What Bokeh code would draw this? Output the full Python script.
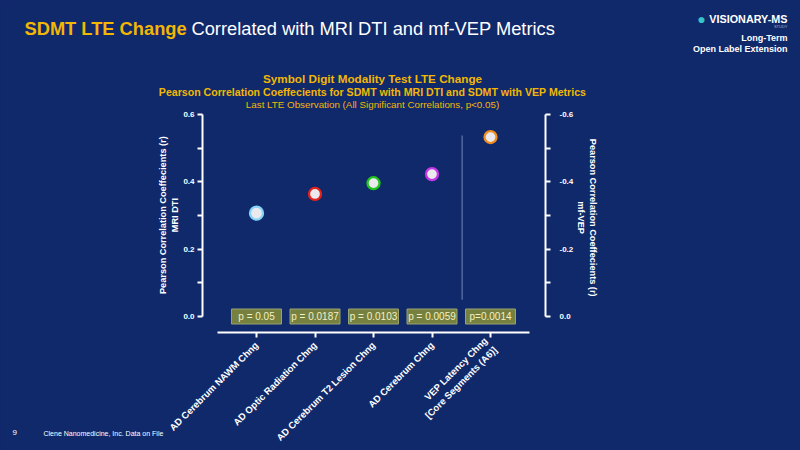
from bokeh.plotting import figure
from bokeh.models import Range1d, LinearAxis, FixedTicker, Label, PrintfTickFormatter
from bokeh.embed import file_html
from bokeh.resources import INLINE
import math

# ---------------- data ----------------
categories = [
    "AD Cerebrum NAWM Chng",
    "AD Optic Radiation Chng",
    "AD Cerebrum T2 Lesion Chng",
    "AD Cerebrum Chng",
    "VEP Latency Chng\n[Core Segments (A6)]",
]
mri_idx = [0, 1, 2, 3]
mri_r = [0.307, 0.364, 0.396, 0.423]
mri_colors = ["#86d3f7", "#e3231b", "#22c21f", "#c437e6"]
mri_sizes = [13, 12, 12, 12]
vep_idx = [4]
vep_r = [-0.533]
vep_colors = ["#f28c1e"]
p_idx = [0, 1, 2, 3, 4]
p_values = ["p = 0.05", "p = 0.0187", "p = 0.0103", "p = 0.0059", "p=0.0014"]
y_ticks = [0.0, 0.2, 0.4, 0.6]
y_minor = [0.1, 0.3, 0.5]
vep_ticks = [-0.6, -0.4, -0.2, 0.0]
vep_minor = [-0.5, -0.3, -0.1]

BG = "#10296b"
WHITE = "#ffffff"
GOLD = "#f2b705"
FONT = "Liberation Sans"
NB = "\u00a0"

# frame placement in the 800x450 canvas
FL, FR, FT, FB = 202, 545, 110, 332

p = figure(
    width=800, height=450, output_backend="svg", toolbar_location=None,
    x_range=Range1d(-0.923, 4.940), y_range=Range1d(-0.0475, 0.6119),
    min_border_left=FL, min_border_right=800 - FR,
    min_border_top=FT, min_border_bottom=450 - FB,
    x_axis_type=None, y_axis_type=None,
)
p.title.visible = False
p.background_fill_color = BG
p.border_fill_color = BG
p.outline_line_color = None
p.xgrid.visible = False
p.ygrid.visible = False
p.styles = {"background-color": BG}

p.extra_y_ranges = {"vep": Range1d(0.0475, -0.6119)}

# ---------------- axes ----------------
def style_axis(ax):
    ax.axis_line_color = WHITE
    ax.axis_line_width = 2
    ax.major_tick_line_color = WHITE
    ax.major_tick_line_width = 2
    ax.minor_tick_line_color = WHITE
    ax.minor_tick_line_width = 2
    ax.major_tick_in = 0
    ax.major_tick_out = 5
    ax.minor_tick_in = 0
    ax.minor_tick_out = 5
    ax.major_label_text_color = WHITE
    ax.major_label_text_font = FONT
    ax.major_label_text_font_style = "bold"
    ax.axis_label_text_color = WHITE
    ax.axis_label_text_font = FONT
    ax.axis_label_text_font_style = "bold"
    ax.axis_label_text_font_size = "9.2px"

left_label = NB * 5 + "Pearson Correlation Coeffecients (r)\n" + NB * 5 + "MRI DTI"
right_label = "Pearson Correlation Coeffecients (r)" + NB * 3 + "\nmf-VEP" + NB * 3

yl = LinearAxis(ticker=FixedTicker(ticks=y_ticks, minor_ticks=y_minor),
                formatter=PrintfTickFormatter(format="%.1f"), bounds=(0, 0.6),
                axis_label=left_label)
style_axis(yl)
yl.major_label_text_font_size = "8px"
yl.major_label_standoff = 3
yl.axis_label_standoff = 0
p.add_layout(yl, "left")

yr = LinearAxis(y_range_name="vep", ticker=FixedTicker(ticks=vep_ticks, minor_ticks=vep_minor),
                formatter=PrintfTickFormatter(format="%.1f"), bounds=(-0.6, 0.0),
                axis_label=right_label)
style_axis(yr)
yr.major_label_text_font_size = "8px"
yr.major_label_standoff = 9
yr.axis_label_standoff = 0
p.add_layout(yr, "right")

xb = LinearAxis(ticker=FixedTicker(ticks=p_idx, minor_ticks=[]), bounds=(-0.667, 4.667))
style_axis(xb)
xb.major_label_overrides = {i: c for i, c in enumerate(categories)}
xb.major_label_orientation = math.pi / 4
xb.major_label_text_font_size = "9.5px"
xb.major_label_standoff = 6
p.add_layout(xb, "below")

# ---------------- marks ----------------
# separator between MRI DTI and VEP metrics
p.segment(x0=[3.516], y0=[0.05], x1=[3.516], y1=[0.5376], line_color="#5068a0", line_width=1.5)

# p-value boxes
p.rect(x=p_idx, y=[0.0] * len(p_idx), width=50, height=15, width_units="screen",
       height_units="screen", fill_color="#76803f", line_color="#9aa270", line_width=1)
p.text(x=p_idx, y=[0.0] * len(p_idx), text=p_values, text_align="center",
       text_baseline="middle", text_font_size="10px", text_color="#f3f1c4",
       text_font={"value": FONT})

p.scatter(x=mri_idx, y=mri_r, size=mri_sizes, fill_color="#e9e9ee",
          line_color=mri_colors, line_width=2.3)
p.scatter(x=vep_idx, y=vep_r, y_range_name="vep", size=12, fill_color="#e9e9ee",
          line_color=vep_colors, line_width=2.3)

# ---------------- texts (canvas pixel positions, placed in side panels) ----------------
def lab(side, text, x, y, size, color=WHITE, style="normal", align="left"):
    p.add_layout(Label(x=x, y=y, x_units="canvas", y_units="canvas", text=text,
                       text_font_size=size, text_color=color, text_font_style=style,
                       text_align=align, text_baseline="middle", text_font=FONT), side)

lab("above", "SDMT LTE Change", 24, 28, "18.3px", GOLD, "bold")
lab("above", "Correlated with MRI DTI and mf-VEP Metrics", 191, 28, "18.3px")
lab("above", "VISIONARY-MS", 787, 18, "10.8px", WHITE, "bold", "right")
lab("above", "Symbol Digit Modality Test LTE Change", 372, 78, "11.7px", GOLD, "bold", "center")
lab("above", "Pearson Correlation Coeffecients for SDMT with MRI DTI and SDMT with VEP Metrics",
    372, 91, "10.6px", GOLD, "bold", "center")
lab("above", "Last LTE Observation (All Significant Correlations, p<0.05)", 372, 104, "9.8px",
    GOLD, "normal", "center")

lab("right", "Long-Term", 787, 37, "9px", WHITE, "bold", "right")
lab("right", "Open Label Extension", 787, 48, "9px", WHITE, "bold", "right")

lab("left", "\u25cf", 701, 18, "14px", "#38c3c6", "normal", "center")
lab("left", "STUDY", 787, 26, "4px", "#9fb0d0", "normal", "right")
lab("left", "9", 12, 432, "8px")
lab("left", "Clene Nanomedicine, Inc. Data on File", 43, 433, "7px")

open("out.html", "w").write(file_html(p, INLINE))
